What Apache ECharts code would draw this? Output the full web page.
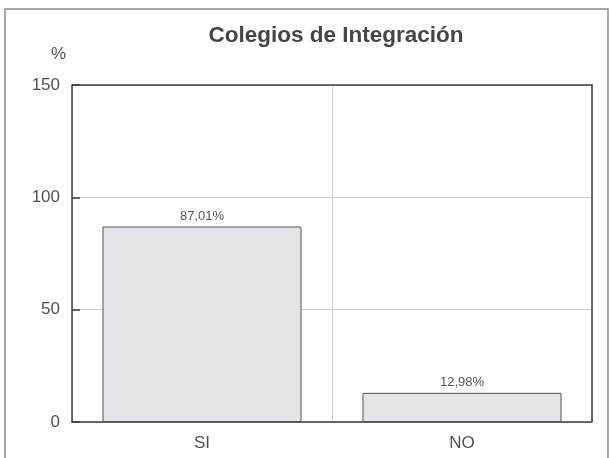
<!DOCTYPE html>
<html>
<head>
<meta charset="utf-8">
<script src="https://cdn.jsdelivr.net/npm/echarts@6/dist/echarts.min.js"></script>
<style>
  html, body { margin: 0; padding: 0; background: #fff; }
  #chart { width: 610px; height: 458px; }
</style>
</head>
<body>
<div id="chart"></div>
<script>
// Share of integration schools (%)
const categories = ['SI', 'NO'];
const values = [87.01, 12.98];
const yTicks = [0, 50, 100, 150];

const fmt = v => v.toFixed(2).replace('.', ',') + '%';

const chart = echarts.init(document.getElementById('chart'), null, { renderer: 'canvas' });

const FONT = '"Liberation Sans", Arial, sans-serif';

chart.setOption({
  animation: false,
  backgroundColor: '#ffffff',
  title: {
    text: 'Colegios de Integración',
    left: 331,
    textAlign: 'center',
    top: 19,
    textStyle: { fontFamily: FONT, fontSize: 22.5, fontWeight: 'bold', color: '#454545' }
  },
  grid: { left: 72, right: 18, top: 85, bottom: 36, containLabel: false },
  xAxis: {
    type: 'category',
    data: categories,
    axisLine: { show: true, lineStyle: { color: '#3e3e3e', width: 1.5 } },
    axisTick: { show: false },
    axisLabel: { fontFamily: FONT, fontSize: 17, color: '#505050', margin: 13 },
    splitLine: { show: true, lineStyle: { color: '#cfcfcf', width: 1 } }
  },
  yAxis: {
    type: 'value',
    min: yTicks[0],
    max: yTicks[yTicks.length - 1],
    interval: 50,
    name: '%',
    nameLocation: 'end',
    nameGap: 22,
    nameTextStyle: { fontFamily: FONT, fontSize: 17, color: '#505050', align: 'right', padding: [0, 6, 0, 0] },
    axisLine: { show: true, lineStyle: { color: '#3e3e3e', width: 1.5 } },
    axisTick: { show: true, inside: true, length: 8, lineStyle: { color: '#3e3e3e', width: 1.5 } },
    axisLabel: { fontFamily: FONT, fontSize: 17, color: '#505050', margin: 12 },
    splitLine: { show: true, lineStyle: { color: '#cfcfcf', width: 1 } }
  },
  series: [
    {
      type: 'bar',
      data: values,
      barWidth: 199,
      z: 3,
      itemStyle: { color: '#e3e4e7', borderColor: '#555555', borderWidth: 1 },
      label: {
        show: true,
        position: 'top',
        distance: 4,
        formatter: p => fmt(p.value),
        fontFamily: FONT,
        fontSize: 13,
        color: '#555555'
      }
    }
  ]
});

// outer frame and the dark top/right edges of the plot area
const r = chart.getModel().getComponent('grid').coordinateSystem.getRect();
chart.setOption({
  graphic: [
    {
      type: 'rect',
      silent: true,
      shape: { x: 5, y: 9, width: 603, height: 470 },
      style: { fill: 'none', stroke: '#8a8a8a', lineWidth: 1.5 }
    },
    {
      type: 'polyline',
      silent: true,
      z: 10,
      shape: { points: [[r.x, r.y], [r.x + r.width, r.y], [r.x + r.width, r.y + r.height]] },
      style: { fill: 'none', stroke: '#3e3e3e', lineWidth: 1.5 }
    }
  ]
});
</script>
</body>
</html>
